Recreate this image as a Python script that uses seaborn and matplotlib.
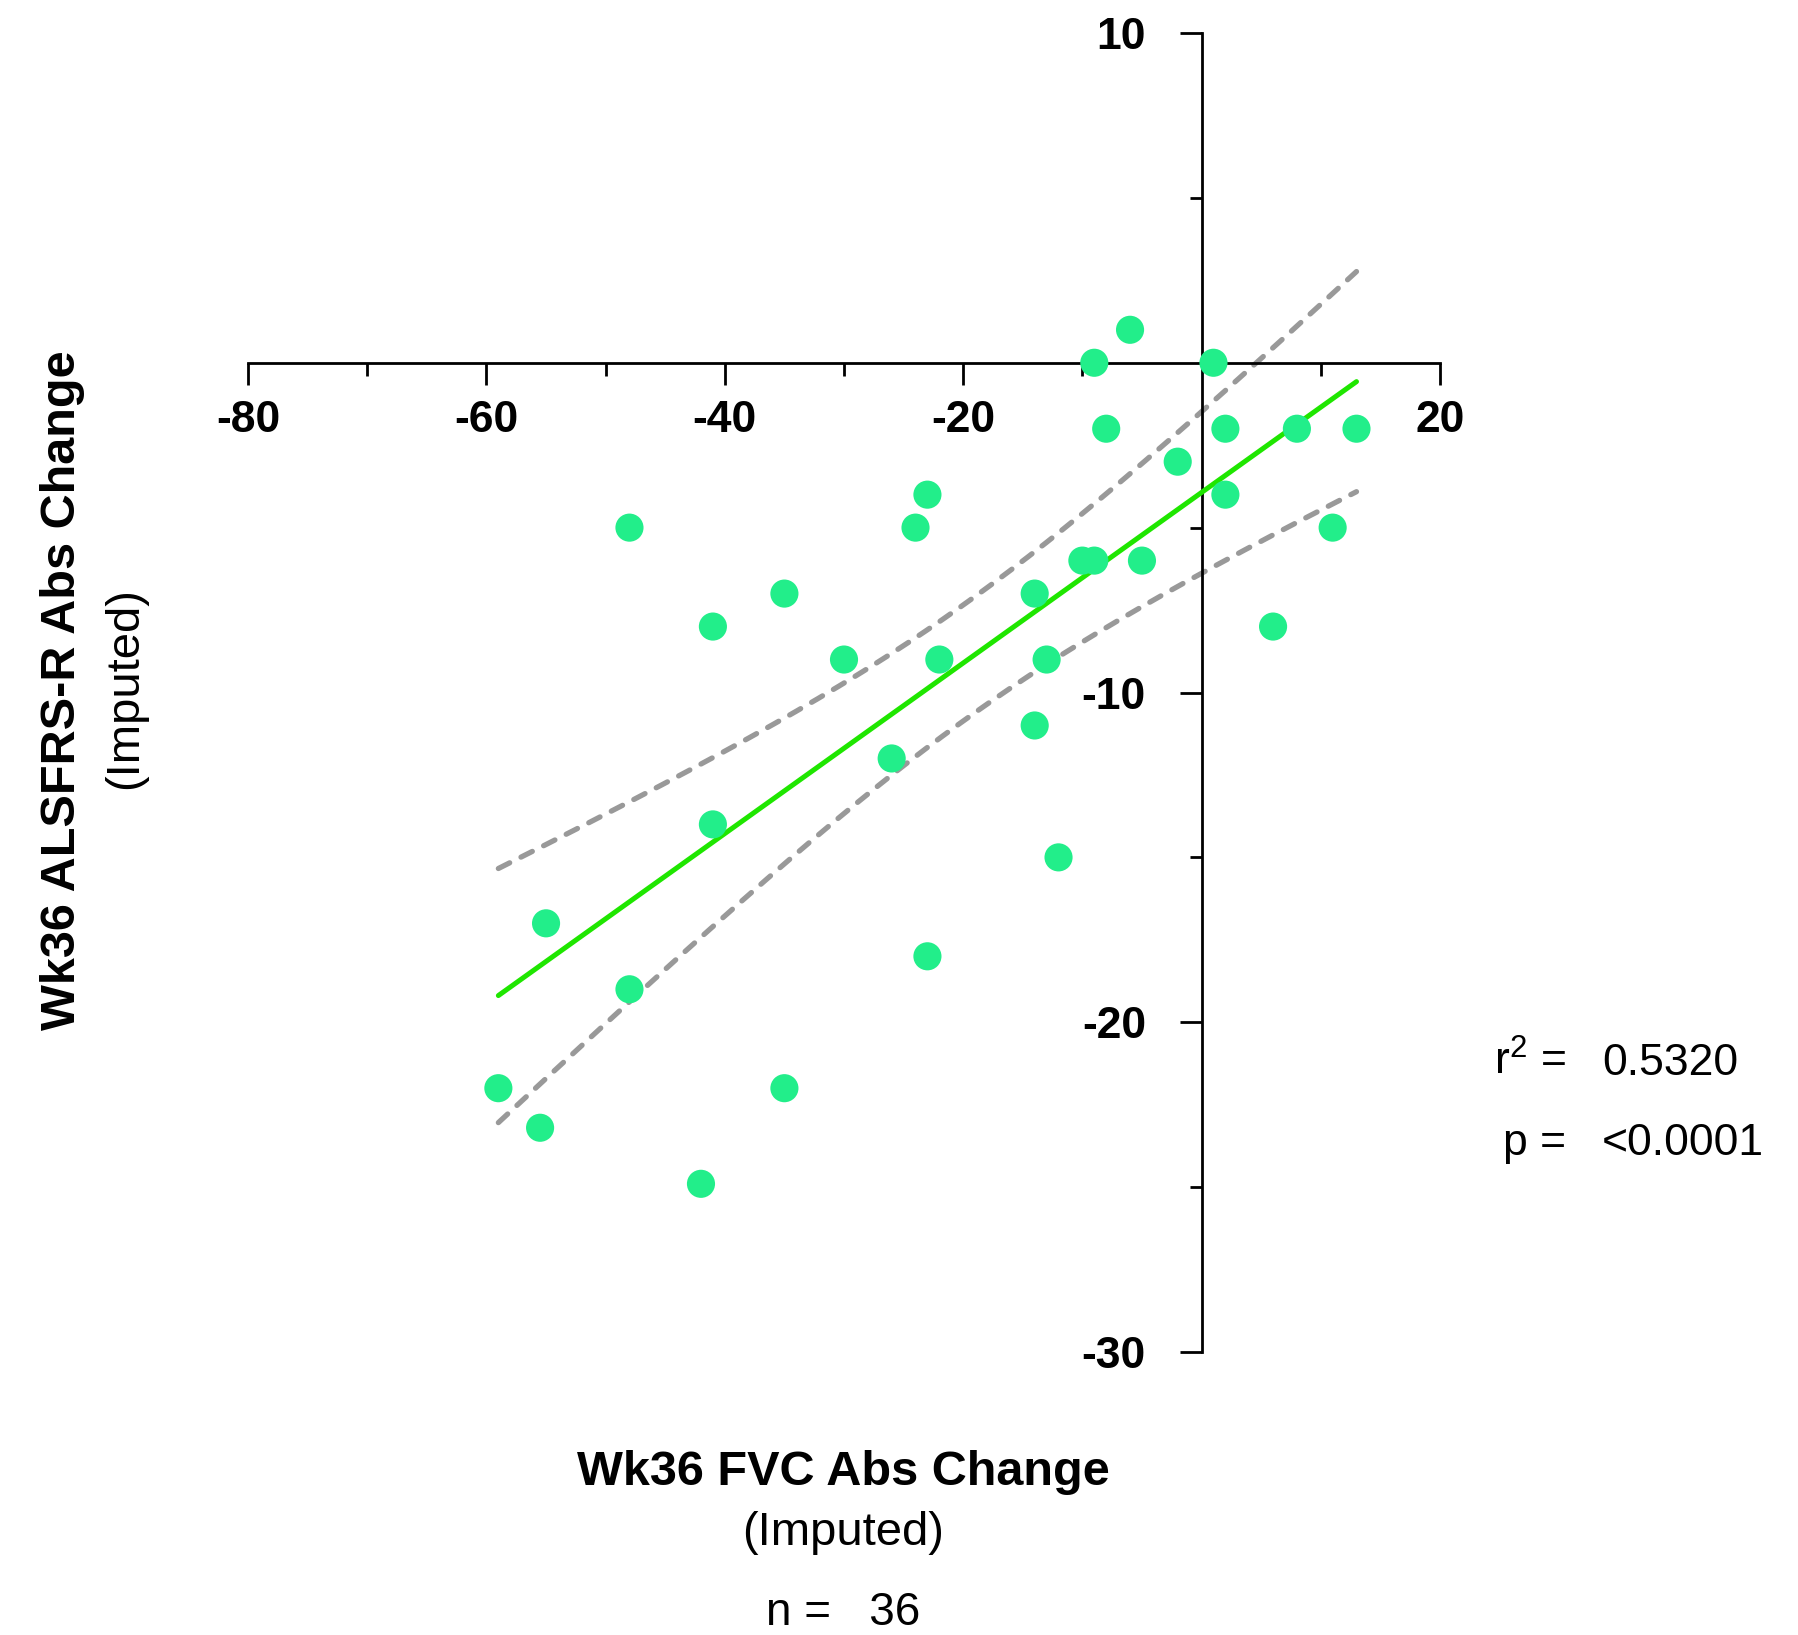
import numpy as np
import pandas as pd
import matplotlib
matplotlib.use("Agg")
import matplotlib.pyplot as plt
import seaborn as sns

# ---- data ----
fvc_change = [-9, -6, 1, -8, 2, 8, 13, -2, 2, -23, -48, -24, 11, -10, -9, -5,
              -35, -14, -41, 6, -30, -22, -13, -14, -26, -41, -12, -55, -23,
              -48, -59, -35, -55.5, -42]
alsfrs_change = [0, 1, 0, -2, -2, -2, -2, -3, -4, -4, -5, -5, -5, -6, -6, -6,
                 -7, -7, -8, -8, -9, -9, -9, -11, -12, -14, -15, -17, -18,
                 -19, -22, -22, -23.2, -24.9]
x_ticks = [-80, -60, -40, -20, 20]
x_tick_labels = ["-80", "-60", "-40", "-20", "20"]
x_minor_ticks = [-70, -50, -30, -10, 10]
y_ticks = [10, -10, -20, -30]
y_tick_labels = ["10", "-10", "-20", "-30"]
y_minor_ticks = [5, -5, -15, -25]
r2_text = "0.5320"
p_text = "<0.0001"
n_text = "36"

df = pd.DataFrame({"fvc": fvc_change, "alsfrs": alsfrs_change})

sns.set_theme(style="ticks")
plt.rcParams["font.family"] = ["Liberation Sans", "DejaVu Sans"]
plt.rcParams["axes.edgecolor"] = "black"
plt.rcParams["text.color"] = "black"
plt.rcParams["xtick.color"] = "black"
plt.rcParams["ytick.color"] = "black"
plt.rcParams["xtick.labelcolor"] = "black"
plt.rcParams["ytick.labelcolor"] = "black"

fig = plt.figure(figsize=(17.99, 16.35), dpi=100)
ax = fig.add_axes([0.1379, 0.1731, 0.6625, 0.8067])

# linear regression and 95% confidence band
x = df["fvc"].to_numpy(dtype=float)
y = df["alsfrs"].to_numpy(dtype=float)
n = len(x)
slope, intercept = np.polyfit(x, y, 1)
resid = y - (slope * x + intercept)
s = np.sqrt(np.sum(resid ** 2) / (n - 2))
xm = x.mean()
sxx = np.sum((x - xm) ** 2)
tval = 2.037
xs = np.linspace(x.min(), x.max(), 200)
yhat = slope * xs + intercept
half = tval * s * np.sqrt(1.0 / n + (xs - xm) ** 2 / sxx)
fit = pd.DataFrame({"x": xs, "fit": yhat, "lo": yhat - half, "hi": yhat + half})

dash = (0, (2.4, 2.4))
sns.lineplot(data=fit, x="x", y="hi", ax=ax, color="#999999", lw=3.8,
             linestyle=dash, dash_capstyle="round", zorder=2)
sns.lineplot(data=fit, x="x", y="lo", ax=ax, color="#999999", lw=3.8,
             linestyle=dash, dash_capstyle="round", zorder=2)
sns.lineplot(data=fit, x="x", y="fit", ax=ax, color="#1fe600", lw=3.6,
             solid_capstyle="round", zorder=3)
sns.scatterplot(data=df, x="fvc", y="alsfrs", ax=ax, s=410, color="#22ee8a",
                edgecolor="none", linewidth=0, zorder=5)

ax.set_xlim(-80, 20)
ax.set_ylim(-30, 10)
ax.set_xlabel("")
ax.set_ylabel("")

for side in ["top", "right"]:
    ax.spines[side].set_visible(False)
ax.spines["left"].set_position(("data", 0))
ax.spines["bottom"].set_position(("data", 0))
ax.spines["left"].set_linewidth(2.0)
ax.spines["bottom"].set_linewidth(2.0)

ax.set_xticks(x_ticks)
ax.set_xticklabels(x_tick_labels, fontweight="bold", fontsize=32)
ax.set_xticks(x_minor_ticks, minor=True)
ax.set_yticks(y_ticks)
ax.set_yticklabels(y_tick_labels, fontweight="bold", fontsize=32)
ax.set_yticks(y_minor_ticks, minor=True)
ax.tick_params(axis="x", which="major", length=16, width=2.0, direction="out", pad=11)
ax.tick_params(axis="x", which="minor", length=9, width=2.0, direction="out")
ax.tick_params(axis="y", which="major", length=16, width=2.0, direction="out", pad=24)
ax.tick_params(axis="y", which="minor", length=9, width=2.0, direction="out")

# axis titles
fig.text(843 / 1799, 1 - 1472 / 1635, "Wk36 FVC Abs Change", ha="center",
         va="center", fontsize=35, fontweight="bold")
fig.text(843 / 1799, 1 - 1533 / 1635, "(Imputed)", ha="center", va="center",
         fontsize=34)
fig.text(843 / 1799, 1 - 1613 / 1635, "n =   " + n_text, ha="center",
         va="center", fontsize=33)
fig.text(63 / 1799, 1 - 690 / 1635, "Wk36 ALSFRS-R Abs Change", ha="center",
         va="center", rotation=90, fontsize=35, fontweight="bold")
fig.text(125 / 1799, 1 - 688 / 1635, "(Imputed)", ha="center", va="center",
         rotation=90, fontsize=34)

# stats
fig.text(1566 / 1799, 1 - 1075 / 1635, r"r$^{\mathregular{2}}$ =", ha="right",
         va="baseline", fontsize=32)
fig.text(1602 / 1799, 1 - 1075 / 1635, r2_text, ha="left", va="baseline",
         fontsize=32)
fig.text(1566 / 1799, 1 - 1155 / 1635, "p =", ha="right", va="baseline",
         fontsize=32)
fig.text(1602 / 1799, 1 - 1155 / 1635, p_text, ha="left", va="baseline",
         fontsize=32)

fig.savefig("out.png", dpi=100, facecolor="white")
